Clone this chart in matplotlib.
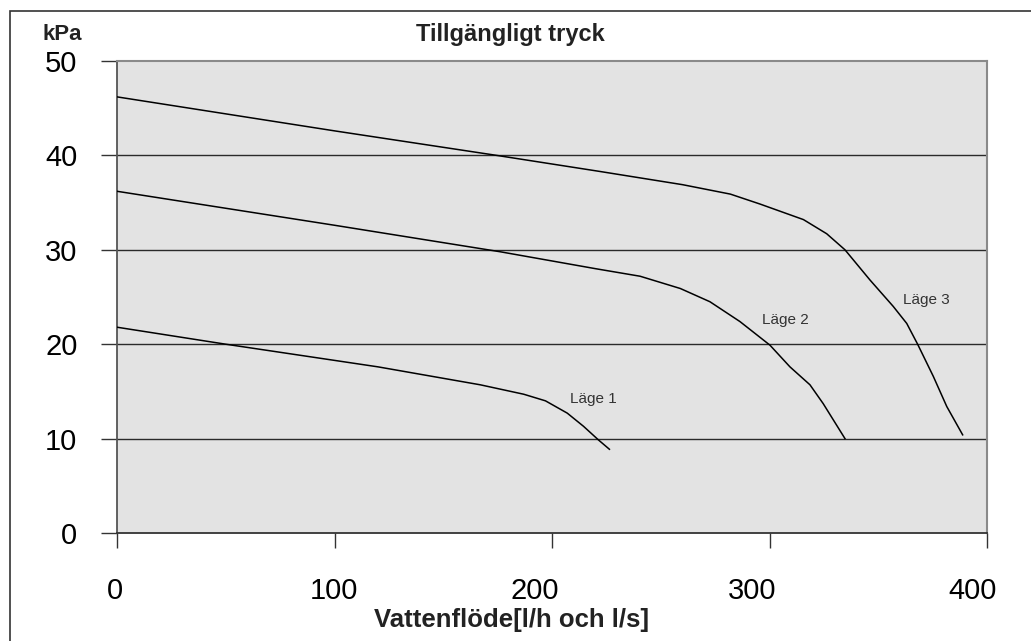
import matplotlib.pyplot as plt
from matplotlib.patches import Rectangle
from matplotlib.transforms import ScaledTranslation

plt.rcParams['font.family'] = ['Liberation Sans', 'DejaVu Sans']

# flow [l/h], available pressure [kPa]
lage1_x = [0, 50, 120, 167, 176, 187, 197, 207, 214.5, 221.4, 226.4]
lage1_y = [21.8, 20.0, 17.6, 15.7, 15.25, 14.7, 14.0, 12.7, 11.3, 9.85, 8.87]

lage2_x = [0, 100, 176, 220, 240.5, 259, 272.6, 286.4, 300.2, 309.4, 318.6, 324.7, 334.7]
lage2_y = [36.2, 32.6, 29.8, 28.0, 27.2, 25.9, 24.5, 22.4, 19.9, 17.6, 15.7, 13.7, 10.0]

lage3_x = [0, 100, 174.6, 222, 260, 282, 295.6, 315.6, 326.3, 334.7, 346.2, 356.9,
           363.1, 368.1, 375.3, 381.5, 388.8]
lage3_y = [46.2, 42.6, 40.0, 38.3, 36.9, 35.9, 34.85, 33.2, 31.7, 30.0, 26.8, 24.0,
           22.2, 20.0, 16.6, 13.4, 10.4]

curve_names = ["Läge 1", "Läge 2", "Läge 3"]
name_x = [208.3, 296.7, 361.2]
name_y = [14.2, 22.6, 24.7]

x_ticks = [0, 100, 200, 300, 400]
y_ticks = [0, 10, 20, 30, 40, 50]
x_label_shift = [-2, -1, -17, -17, -14]  # px, labels sit a bit left of ticks

fig = plt.figure(figsize=(10.31, 6.41), dpi=100)
ax = fig.add_axes([117 / 1031, 1 - 533 / 641, 870 / 1031, 472 / 641])
ax.set_facecolor('#e3e3e3')

# chart frame
fig.patches.append(Rectangle((10 / 1031, -0.2), 1.2, 1.2 - 11 / 641,
                             transform=fig.transFigure, fill=False,
                             edgecolor='#333333', linewidth=1.2))

for y in y_ticks[1:-1]:
    ax.axhline(y, color='#2a2a2a', linewidth=1.0, zorder=1)

for xs, ys in [(lage1_x, lage1_y), (lage2_x, lage2_y), (lage3_x, lage3_y)]:
    ax.plot(xs, ys, color='black', linewidth=1.1, zorder=3, solid_joinstyle='round')

for name, tx, ty in zip(curve_names, name_x, name_y):
    ax.text(tx, ty, name, fontsize=11, color='#333333', va='center', ha='left')

ax.set_xlim(0, 400)
ax.set_ylim(0, 50)
ax.set_xticks(x_ticks)
ax.set_yticks(y_ticks)
ax.tick_params(axis='y', length=11.5, width=1, color='#333333', pad=17, labelsize=21)
ax.tick_params(axis='x', length=11, width=1, color='#333333', pad=21, labelsize=21)

for lbl, dx in zip(ax.get_xticklabels(), x_label_shift):
    lbl.set_transform(lbl.get_transform() + ScaledTranslation(dx / 100, 0, fig.dpi_scale_trans))

ax.spines['top'].set_color('#8a8a8a')
ax.spines['right'].set_color('#8a8a8a')
ax.spines['top'].set_linewidth(1.5)
ax.spines['right'].set_linewidth(1.5)
ax.spines['left'].set_color('#555555')
ax.spines['left'].set_linewidth(1.3)
ax.spines['bottom'].set_color('#333333')
ax.spines['bottom'].set_linewidth(1.3)

fig.text(510 / 1031, 1 - 34 / 641, "Tillgängligt tryck", fontsize=17, fontweight='bold',
         color='#222222', ha='center', va='center')
fig.text(42 / 1031, 1 - 34 / 641, "kPa", fontsize=16, fontweight='bold',
         color='#222222', ha='left', va='center')
fig.text(512 / 1031, 1 - 620 / 641, "Vattenflöde[l/h och l/s]", fontsize=18.5,
         fontweight='bold', color='#222222', ha='center', va='center')

fig.savefig("out.png", dpi=100)
